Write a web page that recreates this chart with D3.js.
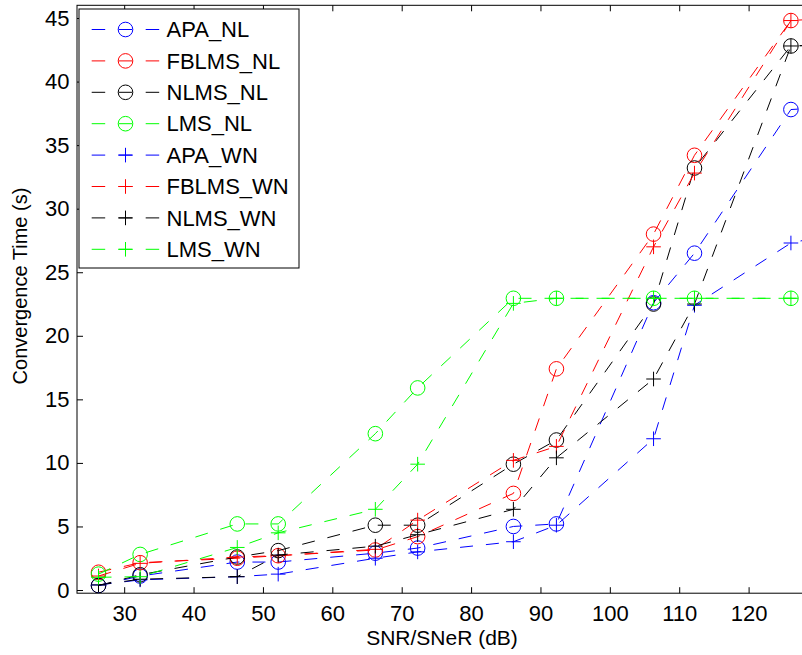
<!DOCTYPE html>
<html>
<head>
<meta charset="utf-8">
<script src="https://cdn.jsdelivr.net/npm/d3@7"></script>
<style>
  html, body { margin: 0; padding: 0; background: #fff; overflow: hidden; }
  svg { display: block; font-family: "Liberation Sans", Arial, Helvetica, sans-serif; }
</style>
</head>
<body>
<svg id="chart" width="802" height="655"></svg>
<script>
// SNR/SNeR operating points (dB); the last one lies past the right edge of the axes
const snrDb = [26.3, 32.3, 46.3, 52.2, 66.2, 72.3, 86.1, 92.3, 106.3, 112.2, 126.1, 132.2];

// Convergence time (s), non-linear echo path
const apaNL   = [0.35, 1.1, 2.2, 2.2, 2.9, 3.3, 5.0, 5.2, 22.6, 26.5, 37.8, 38.0];
const fblmsNL = [1.4, 2.15, 2.5, 2.7, 3.15, 4.2, 7.6, 17.4, 28.0, 34.2, 44.8, 45.0];
const nlmsNL  = [0.35, 1.2, 2.6, 3.1, 5.1, 5.1, 9.9, 11.8, 22.5, 33.2, 42.8, 42.9];
const lmsNL   = [1.25, 2.8, 5.2, 5.2, 12.3, 15.9, 22.95, 22.95, 22.95, 22.95, 22.95, 22.95];

// Convergence time (s), white-noise excitation
const apaWN   = [0.4, 0.8, 1.05, 1.25, 2.5, 3.0, 3.8, 5.1, 11.9, 22.4, 27.3, 28.0];
const fblmsWN = [1.1, 2.1, 2.6, 2.7, 3.2, 5.5, 10.2, 11.3, 27.0, 32.8, 44.8, 45.0];
const nlmsWN  = [0.4, 0.85, 1.05, 2.75, 3.45, 4.35, 6.35, 10.4, 16.6, 22.5, 42.8, 42.9];
const lmsWN   = [1.0, 1.05, 3.35, 4.5, 6.35, 9.9, 22.55, 22.95, 22.95, 22.95, 22.95, 22.95];

const seriesNames   = ["APA_NL", "FBLMS_NL", "NLMS_NL", "LMS_NL", "APA_WN", "FBLMS_WN", "NLMS_WN", "LMS_WN"];
const seriesValues  = [apaNL, fblmsNL, nlmsNL, lmsNL, apaWN, fblmsWN, nlmsWN, lmsWN];
const seriesColors  = ["#0000ff", "#ff0000", "#000000", "#00ff00", "#0000ff", "#ff0000", "#000000", "#00ff00"];
const seriesMarkers = ["circle", "circle", "circle", "circle", "plus", "plus", "plus", "plus"];

const xTicks = [30, 40, 50, 60, 70, 80, 90, 100, 110, 120];
const yTicks = [0, 5, 10, 15, 20, 25, 30, 35, 40, 45];
const xTitle = "SNR/SNeR (dB)";
const yTitle = "Convergence Time (s)";

const svg = d3.select("#chart");
const box = { left: 77, right: 810, top: 5.3, bottom: 593.2 };

const x = d3.scaleLinear().domain([23.2, 128.85]).range([box.left, box.right]);
const y = d3.scaleLinear().domain([-0.25, 46]).range([box.bottom, box.top]);

svg.append("defs").append("clipPath").attr("id", "plotClip")
  .append("rect")
  .attr("x", box.left).attr("y", box.top)
  .attr("width", box.right - box.left).attr("height", box.bottom - box.top);

// axes with inward ticks
const fontSize = 22;
const gx = svg.append("g").attr("transform", `translate(0,${box.bottom})`)
  .call(d3.axisBottom(x).tickValues(xTicks).tickSizeInner(-6).tickSizeOuter(0).tickPadding(12.5));
const gxTop = svg.append("g").attr("transform", `translate(0,${box.top})`)
  .call(d3.axisTop(x).tickValues(xTicks).tickSizeInner(-6).tickSizeOuter(0).tickFormat(""));
const gy = svg.append("g").attr("transform", `translate(${box.left},0)`)
  .call(d3.axisLeft(y).tickValues(yTicks).tickSizeInner(-6).tickSizeOuter(0).tickPadding(7.5));

[gx, gxTop, gy].forEach(g => {
  g.select(".domain").remove();
  g.selectAll(".tick line").attr("stroke", "#000").attr("stroke-width", 1);
  g.selectAll(".tick text").attr("fill", "#000")
    .style("font-size", fontSize + "px")
    .style("font-family", "'Liberation Sans', Arial, Helvetica, sans-serif");
});

// axes box
svg.append("rect")
  .attr("x", box.left).attr("y", box.top)
  .attr("width", box.right - box.left).attr("height", box.bottom - box.top)
  .attr("fill", "none").attr("stroke", "#000").attr("stroke-width", 1);

// axis titles
svg.append("text")
  .attr("x", 442).attr("y", 645)
  .attr("text-anchor", "middle")
  .style("font-size", "21px")
  .text(xTitle);

svg.append("text")
  .attr("transform", "translate(27,286) rotate(-90)")
  .attr("text-anchor", "middle")
  .style("font-size", "20px")
  .text(yTitle);

// marker drawing
function drawMarker(sel, kind, color, r) {
  if (kind === "circle") {
    sel.append("circle").attr("r", r)
      .attr("fill", "none").attr("stroke", color).attr("stroke-width", 1);
  } else {
    sel.append("path").attr("d", `M${-r},0H${r}M0,${-r}V${r}`)
      .attr("fill", "none").attr("stroke", color).attr("stroke-width", 1);
  }
}

// data series
const plotG = svg.append("g").attr("clip-path", "url(#plotClip)");
const line = d3.line().x(d => x(d[0])).y(d => y(d[1]));

seriesValues.forEach((vals, i) => {
  const pts = snrDb.map((s, j) => [s, vals[j]]);
  const g = plotG.append("g");
  g.append("path")
    .attr("d", line(pts))
    .attr("fill", "none")
    .attr("stroke", seriesColors[i])
    .attr("stroke-width", 1)
    .attr("stroke-dasharray", "13,13");
  g.selectAll("g.mk").data(pts).enter().append("g")
    .attr("class", "mk")
    .attr("transform", d => `translate(${x(d[0])},${y(d[1])})`)
    .each(function () { drawMarker(d3.select(this), seriesMarkers[i], seriesColors[i], 7.3); });
});

// legend
const legend = svg.append("g");
legend.append("rect")
  .attr("x", 79).attr("y", 9).attr("width", 220).attr("height", 259)
  .attr("fill", "#fff").attr("stroke", "#000").attr("stroke-width", 1);

seriesNames.forEach((name, i) => {
  const cy = 29.5 + i * 31.4;
  const row = legend.append("g");
  row.append("line")
    .attr("x1", 91.7).attr("x2", 159.3).attr("y1", cy).attr("y2", cy)
    .attr("stroke", seriesColors[i]).attr("stroke-width", 1)
    .attr("stroke-dasharray", "13.5,13.5");
  drawMarker(row.append("g").attr("transform", `translate(125.5,${cy})`), seriesMarkers[i], seriesColors[i], 7.3);
  row.append("text")
    .attr("x", 166.5).attr("y", cy).attr("dy", "0.35em")
    .style("font-size", "22px")
    .text(name);
});
</script>
</body>
</html>
